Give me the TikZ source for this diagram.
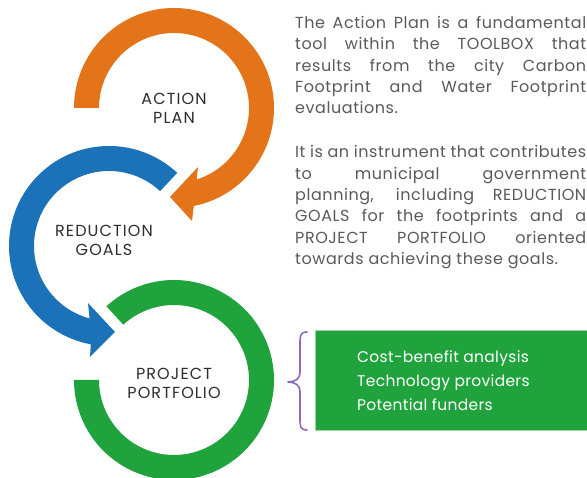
\documentclass[tikz,border=0pt]{standalone}
\usepackage{fontspec}
\setmainfont{Poppins}
\newfontfamily\gothicwide{Poppins}[LetterSpace=7]
\newfontfamily\gothicdesc{Poppins}[LetterSpace=3.5]
\newfontfamily\gothicmid{Poppins}[LetterSpace=2]
\usetikzlibrary{calc}
\definecolor{orangeA}{HTML}{E37419}
\definecolor{blueA}{HTML}{1B72B8}
\definecolor{greenA}{HTML}{20A33C}
\definecolor{purpleA}{HTML}{8B6BB5}
\definecolor{textgray}{HTML}{5A5A5A}
\definecolor{labelgray}{HTML}{2E2E2E}
\begin{document}
\begin{tikzpicture}[x=1pt,y=1pt,
  ringlabel/.style={font=\gothicwide\fontsize{16}{19}\selectfont, text=labelgray, align=center, inner sep=0pt},
  desc/.style={font=\gothicdesc\fontsize{16}{21.3}\selectfont, text=textgray, text width=291pt, align=justify, inner sep=0pt},
  greenbox/.style={fill=greenA, draw=greenA!45!white, line width=0.8pt, minimum width=280pt, minimum height=100pt, inner sep=0pt},
  boxtext/.style={font=\gothicmid\fontsize{15.5}{24}\selectfont, text=white, align=left, inner sep=0pt},
  bracestyle/.style={draw=purpleA, line width=1.6pt, line cap=round, line join=round}]
\useasboundingbox (0,0) rectangle (587,478);
\clip (0,0) rectangle (587,478);
\fill[white] (0,0) rectangle (587,478);

% orange ring with arrow
\fill[orangeA, shift={(174,370)}] (180:100pt) arc[start angle=180, end angle=-78.6, radius=100pt]
  -- (18,-113) -- (-4,-89) -- (24,-59) -- (-72.4:75pt)
  arc[start angle=-72.4, end angle=180, radius=75pt] -- cycle;

% blue ring with arrow
\fill[blueA, shift={(109,232)}] (47:100pt) arc[start angle=47, end angle=259.5, radius=100pt]
  -- (-19,-111) -- (6,-86) -- (-21,-57) -- (255:75pt)
  arc[start angle=255, end angle=47, radius=75pt] -- cycle;

% green ring
\fill[greenA, shift={(174,98)}] (180:100pt) arc[start angle=180, end angle=492.5, radius=100pt]
  -- (492.5:75pt) arc[start angle=492.5, end angle=180, radius=75pt] -- cycle;

\node[ringlabel] (action) at (174,370) {ACTION\\PLAN};
\node[ringlabel] (reduction) at (104,237.5) {REDUCTION\\GOALS};
\node[ringlabel] (project) at (174,95) {PROJECT\\PORTFOLIO};

\node[desc, anchor=north west] (text) at (295,462) {\hyphenpenalty=10000\relax\exhyphenpenalty=10000\relax
The Action Plan is a fundamental\linebreak
tool within the TOOLBOX that\linebreak
results from the city Carbon\linebreak
Footprint and Water Footprint\linebreak
evaluations.\par\vspace{23pt}
It is an instrument that contributes\linebreak
to municipal government\linebreak
planning, including REDUCTION\linebreak
GOALS for the footprints and a\linebreak
PROJECT PORTFOLIO oriented\linebreak
towards achieving these goals.};

\node[greenbox, anchor=north west] (box) at (315,148) {};
\node[boxtext, anchor=west] (items) at (357,97) {Cost-benefit analysis\\Technology providers\\Potential funders};

\coordinate (bt) at (307,146);
\coordinate (bm) at (288,96);
\coordinate (bb) at (307,48);
\draw[bracestyle] (bt) .. controls (300,146) and (300,142) .. (300,134) -- (300,106)
  .. controls (300,99) and (295,96) .. (bm)
  .. controls (295,96) and (300,93) .. (300,86) -- (300,60)
  .. controls (300,52) and (300,48) .. (bb);
\end{tikzpicture}
\end{document}
